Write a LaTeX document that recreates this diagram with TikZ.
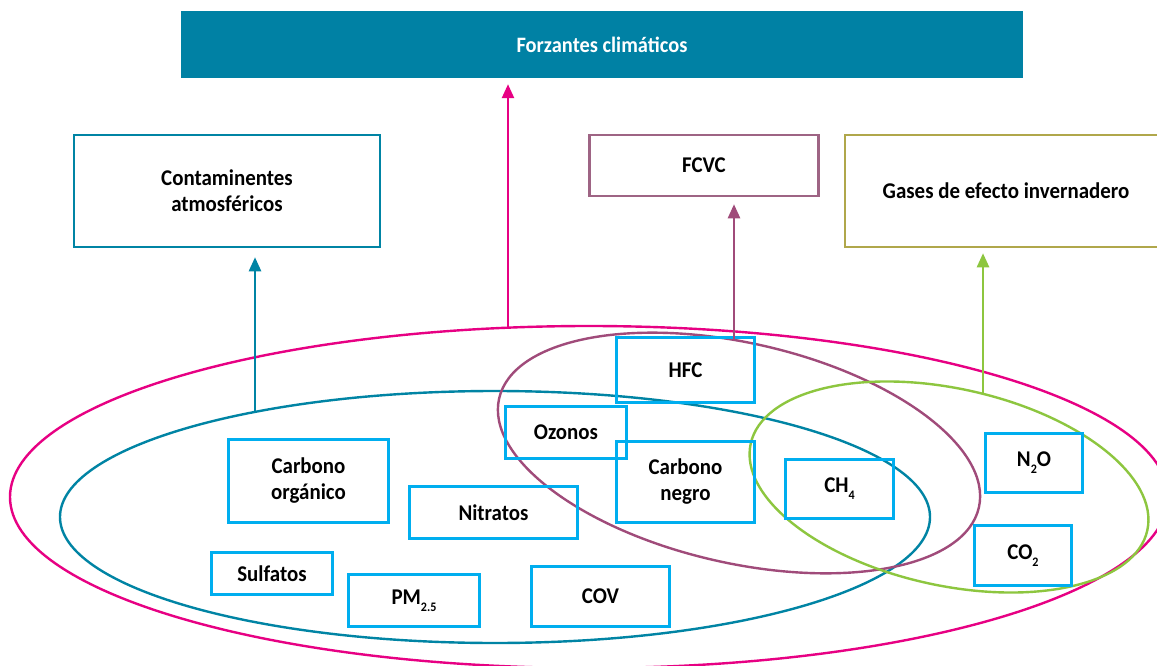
\documentclass[tikz,border=0pt]{standalone}
\usepackage{fontspec}
\setmainfont[FakeStretch=0.93]{Carlito}
\usetikzlibrary{arrows.meta,intersections}
\definecolor{barcol}{RGB}{0,129,164}
\definecolor{tealc}{RGB}{0,132,164}
\definecolor{magc}{RGB}{231,0,131}
\definecolor{purc}{RGB}{160,75,122}
\definecolor{fcvcc}{RGB}{158,100,132}
\definecolor{grnc}{RGB}{141,198,63}
\definecolor{olvc}{RGB}{176,167,75}
\definecolor{lblue}{RGB}{0,174,239}
\newcommand\lsub[1]{\raisebox{-0.32em}{\fontsize{13}{13}\selectfont #1}}
\begin{document}
\begin{tikzpicture}[x=1pt,y=-1pt,
  every node/.style={font=\fontsize{22.5}{26}\selectfont\bfseries, align=center, inner sep=0pt, text=black},
  item/.style={draw=lblue, line width=2.7pt},
  head/.style={line width=2.5pt},
  ring/.style={line width=2.4pt},
  arr/.style={line width=2.4pt, -{Triangle[width=12pt,length=14pt]}}]
\clip (0,0) rectangle (1157,666);
\fill[white] (0,0) rectangle (1157,666);

% top bar and category boxes
\node[fill=barcol, minimum width=842pt, minimum height=67pt, text=white, font=\fontsize{22}{26}\selectfont\bfseries] (bar) at (602,44.5) {Forzantes climáticos};
\node[head, draw=tealc, minimum width=306pt, minimum height=112pt] (ca) at (227,191) {Contaminentes\\atmosféricos};
\node[head, draw=fcvcc, minimum width=229pt, minimum height=61pt] (fc) at (704,165.5) {FCVC};
\node[head, draw=olvc, minimum width=322pt, minimum height=112pt] (ge) at (1006,191) {Gases de efecto invernadero};

% ellipses
\draw[ring, magc, name path=pm] (589,497) ellipse [x radius=579pt, y radius=171pt];
\draw[ring, tealc, name path=pt] (495,517) ellipse [x radius=435pt, y radius=126pt];
\draw[ring, purc, name path=pp, rotate around={-12.8:(739,453)}] (739,453) ellipse [x radius=246pt, y radius=110pt];
\draw[ring, grnc, name path=pg, rotate around={-12.3:(949,487)}] (949,487) ellipse [x radius=203pt, y radius=98.5pt];

% arrow start points on the ellipses
\path[name path=vt] (255,300) -- (255,450);
\path[name path=vm] (508,250) -- (508,400);
\path[name path=vp] (734,300) -- (734,380);
\path[name path=vg] (983,340) -- (983,430);
\path[name intersections={of=pt and vt, by=ta}];
\path[name intersections={of=pm and vm, by=ma}];
\path[name intersections={of=pp and vp, by=pa}];
\path[name intersections={of=pg and vg, by=ga}];

% items
\node[item, minimum width=160pt, minimum height=83pt] (corg) at (308.5,481) {Carbono\\orgánico};
\node[item, minimum width=168pt, minimum height=52pt] (nit) at (493.5,512.5) {Nitratos};
\node[item, minimum width=121pt, minimum height=52pt] (oz) at (566,432.5) {Ozonos};
\node[item, minimum width=138pt, minimum height=65pt] (hfc) at (685.5,370) {HFC};
\node[item, minimum width=138pt, minimum height=81pt] (cneg) at (685.5,482) {Carbono\\negro};
\node[item, minimum width=108pt, minimum height=59pt] (ch4) at (839.5,489) {CH\lsub{4}};
\node[item, minimum width=97pt, minimum height=59pt] (n2o) at (1034,463) {N\lsub{2}O};
\node[item, minimum width=97pt, minimum height=60pt] (co2) at (1023,555.5) {CO\lsub{2}};
\node[item, minimum width=121pt, minimum height=42pt] (sul) at (272,573.5) {Sulfatos};
\node[item, minimum width=131pt, minimum height=52pt] (pm) at (414,600.5) {PM\lsub{2.5}};
\node[item, minimum width=138pt, minimum height=60pt] (cov) at (600.5,596.5) {COV};

% arrows
\draw[arr, tealc, shorten >=9pt] (ta) -- (ta |- ca.south);
\draw[arr, magc, shorten >=6pt] (ma) -- (ma |- bar.south);
\draw[arr, purc, shorten >=7pt] (pa) -- (pa |- fc.south);
\draw[arr, grnc, shorten >=5pt] (ga) -- (ga |- ge.south);
\end{tikzpicture}
\end{document}
